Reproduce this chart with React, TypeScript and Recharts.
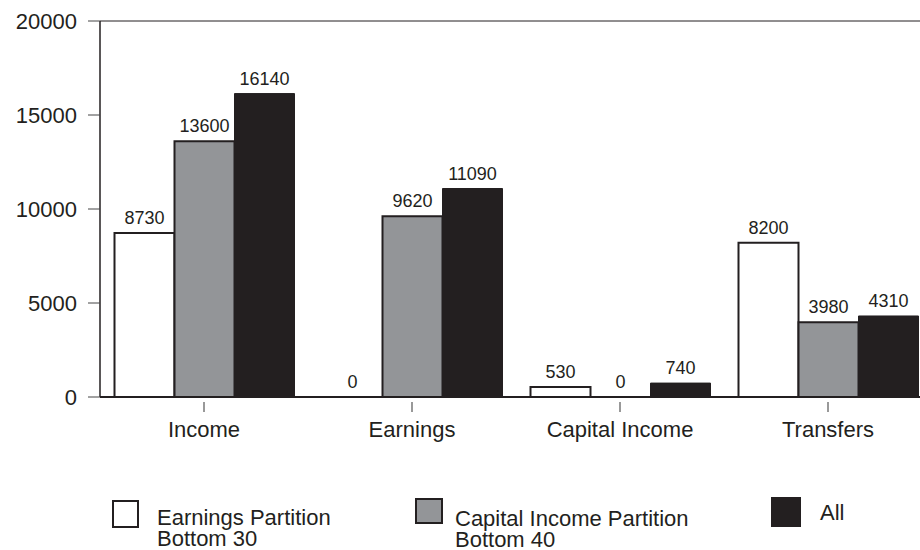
import React from 'react';
import { BarChart, Bar, XAxis, YAxis, LabelList, Legend, ReferenceLine } from 'recharts';

const CATEGORIES = ['Income', 'Earnings', 'Capital Income', 'Transfers'];
const EARNINGS_BOTTOM_30 = [8730, 0, 530, 8200];
const CAPITAL_BOTTOM_40 = [13600, 9620, 0, 3980];
const ALL_VALUES = [16140, 11090, 740, 4310];
const Y_TICKS = [0, 5000, 10000, 15000, 20000];

const INK = '#231f20';
const GRAY = '#939598';
const FONT = '"Liberation Sans", Arial, Helvetica, sans-serif';

const data = CATEGORIES.map((name, i) => ({
  name,
  earnings: EARNINGS_BOTTOM_30[i],
  capital: CAPITAL_BOTTOM_40[i],
  all: ALL_VALUES[i],
}));

const CategoryTick = (props: any) => {
  const { x, y, payload } = props;
  return (
    <g>
      <line x1={x} x2={x} y1={y + 5} y2={y + 15} stroke="#555" strokeWidth={1.2} />
      <text x={x} y={y + 40} textAnchor="middle" fontSize={22} fill={INK}>
        {payload.value}
      </text>
    </g>
  );
};

// value above each bar, zero included
const ValueLabel = (props: any) => {
  const { x, y, width, value } = props;
  if (value === undefined || value === null) return null;
  return (
    <text x={Number(x) + Number(width) / 2} y={Number(y) - 9} textAnchor="middle" fontSize={18} fill={INK}>
      {String(value)}
    </text>
  );
};

const ChartLegend = () => {
  const textStyle: React.CSSProperties = {
    position: 'absolute',
    fontSize: 22,
    lineHeight: '21px',
    color: INK,
    whiteSpace: 'nowrap',
  };
  const box = (left: number, top: number, w: number, h: number, fill: string, border: string): React.CSSProperties => ({
    position: 'absolute',
    left,
    top,
    width: w,
    height: h,
    background: fill,
    border,
    boxSizing: 'border-box',
  });
  return (
    <div style={{ position: 'relative', width: 920, height: 60, fontFamily: FONT }}>
      <div style={box(112, 10, 27, 28, '#fff', `2px solid ${INK}`)} />
      <div style={{ ...textStyle, left: 157, top: 17 }}>
        Earnings Partition<br />Bottom 30
      </div>
      <div style={box(415, 8, 28, 26, GRAY, `2px solid ${INK}`)} />
      <div style={{ ...textStyle, left: 455, top: 18 }}>
        Capital Income Partition<br />Bottom 40
      </div>
      <div style={box(771, 7, 30, 30, INK, 'none')} />
      <div style={{ ...textStyle, left: 820, top: 12 }}>All</div>
    </div>
  );
};

export default function App() {
  return (
    <div
      style={{
        position: 'absolute',
        left: 0,
        top: 0,
        width: 920,
        height: 550,
        overflow: 'hidden',
        background: '#fff',
        fontFamily: FONT,
      }}
    >
      <BarChart
        width={940}
        height={550}
        data={data}
        margin={{ top: 21, right: 8, left: 0, bottom: 43 }}
        barCategoryGap={14.5}
        barGap={0}
      >
        <ReferenceLine y={20000} stroke={INK} strokeWidth={1} />
        <Bar dataKey="earnings" name="Earnings Partition Bottom 30" fill="#fff" stroke={INK} strokeWidth={2} minPointSize={0.01} isAnimationActive={false}>
          <LabelList dataKey="earnings" content={<ValueLabel />} />
        </Bar>
        <Bar dataKey="capital" name="Capital Income Partition Bottom 40" fill={GRAY} stroke={INK} strokeWidth={2} minPointSize={0.01} isAnimationActive={false}>
          <LabelList dataKey="capital" content={<ValueLabel />} />
        </Bar>
        <Bar dataKey="all" name="All" fill={INK} stroke={INK} strokeWidth={1} minPointSize={0.01} isAnimationActive={false}>
          <LabelList dataKey="all" content={<ValueLabel />} />
        </Bar>
        <XAxis
          dataKey="name"
          height={50}
          tickSize={0}
          tickMargin={0}
          tick={<CategoryTick />}
          axisLine={{ stroke: INK, strokeWidth: 2 }}
          tickLine={false}
          interval={0}
        />
        <YAxis
          width={100}
          domain={[0, 20000]}
          ticks={Y_TICKS}
          tickSize={12}
          tickMargin={11}
          tick={{ fontSize: 22, fill: INK }}
          axisLine={{ stroke: INK, strokeWidth: 1.5 }}
          tickLine={{ stroke: '#444', strokeWidth: 1 }}
          allowDataOverflow
        />
        <Legend
          content={() => <ChartLegend />}
          wrapperStyle={{ position: 'absolute', left: 0, top: 490, width: 920, height: 60 }}
        />
      </BarChart>
    </div>
  );
}
